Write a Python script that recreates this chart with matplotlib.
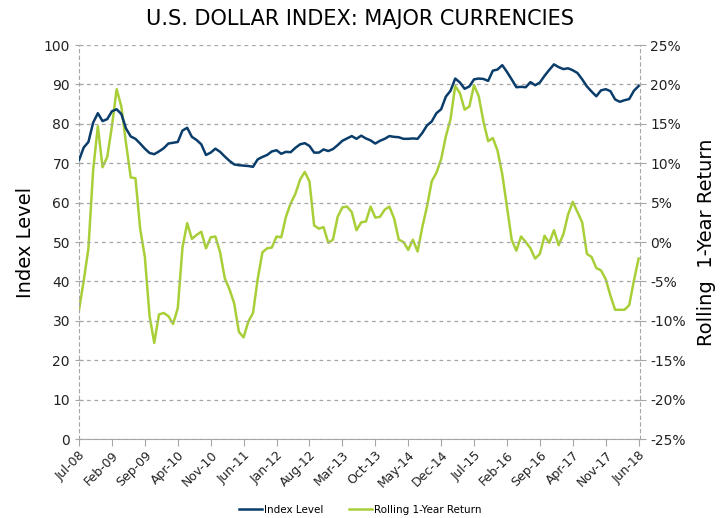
import matplotlib
matplotlib.use("Agg")
import matplotlib.pyplot as plt
from matplotlib.ticker import MultipleLocator, FuncFormatter

BLUE = "#0b3d6b"
GREEN = "#a8cf38"
GRID = "#a6a6a6"

# monthly, Jul-08 .. Jun-18
tick_labels = ["Jul-08", "Feb-09", "Sep-09", "Apr-10", "Nov-10", "Jun-11",
               "Jan-12", "Aug-12", "Mar-13", "Oct-13", "May-14", "Dec-14",
               "Jul-15", "Feb-16", "Sep-16", "Apr-17", "Nov-17", "Jun-18"]

index_level = [
    70.8, 74.0, 75.4, 80.3, 82.7, 80.7, 81.2, 83.2, 83.7, 82.5,
    78.8, 76.8, 76.2, 75.0, 73.7, 72.6, 72.3, 73.0, 73.8, 75.0,
    75.2, 75.4, 78.3, 79.0, 76.7, 75.9, 74.8, 72.1, 72.7, 73.7,
    72.9, 71.7, 70.6, 69.7, 69.5, 69.4, 69.3, 69.1, 71.0, 71.6,
    72.1, 73.0, 73.3, 72.4, 72.9, 72.8, 73.9, 74.8, 75.1, 74.4,
    72.7, 72.7, 73.5, 73.1, 73.6, 74.6, 75.7, 76.3, 76.9, 76.2,
    77.0, 76.3, 75.8, 75.0, 75.7, 76.2, 76.9, 76.7, 76.6, 76.2,
    76.2, 76.3, 76.2, 77.7, 79.6, 80.6, 82.7, 83.7, 86.9, 88.4,
    91.5, 90.5, 88.9, 89.5, 91.3, 91.5, 91.4, 90.9, 93.5, 93.8,
    94.9, 93.2, 91.3, 89.3, 89.4, 89.3, 90.6, 89.8, 90.5, 92.2,
    93.7, 95.1, 94.4, 93.9, 94.1, 93.6, 92.9, 91.3, 89.5, 88.2,
    87.0, 88.5, 88.8, 88.3, 86.2, 85.6, 86.0, 86.3, 88.4, 89.6,
]

rolling_return = [
    -8.6, -4.9, -0.8, 9.1, 14.7, 9.5, 10.8, 14.7, 19.4, 17.2,
    12.5, 8.2, 8.1, 1.7, -1.9, -9.4, -12.8, -9.2, -9.0, -9.4,
    -10.4, -8.4, -0.7, 2.4, 0.4, 0.9, 1.3, -0.8, 0.6, 0.7,
    -1.3, -4.6, -6.0, -7.8, -11.4, -12.1, -10.1, -9.0, -4.7, -1.3,
    -0.8, -0.7, 0.7, 0.6, 3.2, 4.9, 6.1, 7.9, 8.9, 7.7,
    2.1, 1.7, 1.9, -0.1, 0.3, 3.2, 4.4, 4.5, 3.8, 1.5,
    2.5, 2.6, 4.5, 3.1, 3.2, 4.1, 4.5, 3.0, 0.3, 0.0,
    -1.0, 0.3, -1.2, 1.9, 4.5, 7.7, 8.8, 10.5, 13.4, 15.6,
    19.8, 18.9, 16.8, 17.2, 19.9, 18.5, 15.3, 12.8, 13.2, 11.6,
    8.6, 4.5, 0.3, -1.1, 0.7, 0.0, -0.8, -2.1, -1.5, 0.8,
    -0.1, 1.5, -0.4, 1.0, 3.5, 5.1, 3.8, 2.5, -1.5, -1.9,
    -3.3, -3.6, -4.7, -6.8, -8.6, -8.6, -8.6, -8.0, -4.9, -2.1,
]

months = list(range(len(index_level)))

plt.rcParams["font.family"] = "DejaVu Sans"

fig = plt.figure(figsize=(7.21, 5.18), dpi=100)
ax = fig.add_axes([0.1096, 0.1525, 0.7781, 0.7605])
ax2 = ax.twinx()

# gridlines
ax.set_ylim(0, 100)
ax.yaxis.set_major_locator(MultipleLocator(10))
ax.grid(axis="y", color=GRID, linestyle=(0, (3, 3)), linewidth=0.9)
ax.set_axisbelow(True)

ln1, = ax.plot(months, index_level, color=BLUE, linewidth=1.8,
               label="Index Level", zorder=3)
ln2, = ax2.plot(months, rolling_return, color=GREEN, linewidth=1.8,
                label="Rolling 1-Year Return", zorder=2)
ax.set_zorder(ax2.get_zorder() + 1)
ax.patch.set_visible(False)

ax.set_xlim(0, 119.3)
ax.set_xticks(months[::7])
ax.set_xticklabels(tick_labels, rotation=45, ha="right",
                   rotation_mode="anchor", fontsize=9)

ax2.set_ylim(-25, 25)
ax2.yaxis.set_major_locator(MultipleLocator(5))
ax2.yaxis.set_major_formatter(FuncFormatter(lambda v, p: f"{v:.0f}%"))

for a in (ax, ax2):
    for s in a.spines.values():
        s.set_visible(False)
    a.tick_params(colors="#222222", labelsize=10)

ax.spines["bottom"].set_visible(True)
ax.spines["bottom"].set_color(GRID)
ax.spines["left"].set_visible(True)
ax.spines["left"].set_color(GRID)
ax.spines["left"].set_linestyle((0, (3, 3)))
ax2.spines["right"].set_visible(True)
ax2.spines["right"].set_color(GRID)
ax2.spines["right"].set_linestyle((0, (3, 3)))

ax.tick_params(axis="x", direction="out", length=5, color=GRID, labelsize=9, pad=2)
ax.tick_params(axis="y", direction="inout", length=6, color=GRID)
ax2.tick_params(axis="y", direction="inout", length=8, color=GRID)

ax.set_ylabel("Index Level", fontsize=14, labelpad=6)
ax2.set_ylabel("Rolling  1-Year Return", fontsize=14, labelpad=8)

fig.suptitle("U.S. DOLLAR INDEX: MAJOR CURRENCIES", fontsize=15, y=0.982)

fig.legend([ln1, ln2], ["Index Level", "Rolling 1-Year Return"],
           loc="lower center", bbox_to_anchor=(0.5, -0.012), ncol=2,
           frameon=False, fontsize=7.5, handlelength=2.2, columnspacing=2.5,
           handletextpad=0.2)

fig.savefig("out.png", dpi=100)
